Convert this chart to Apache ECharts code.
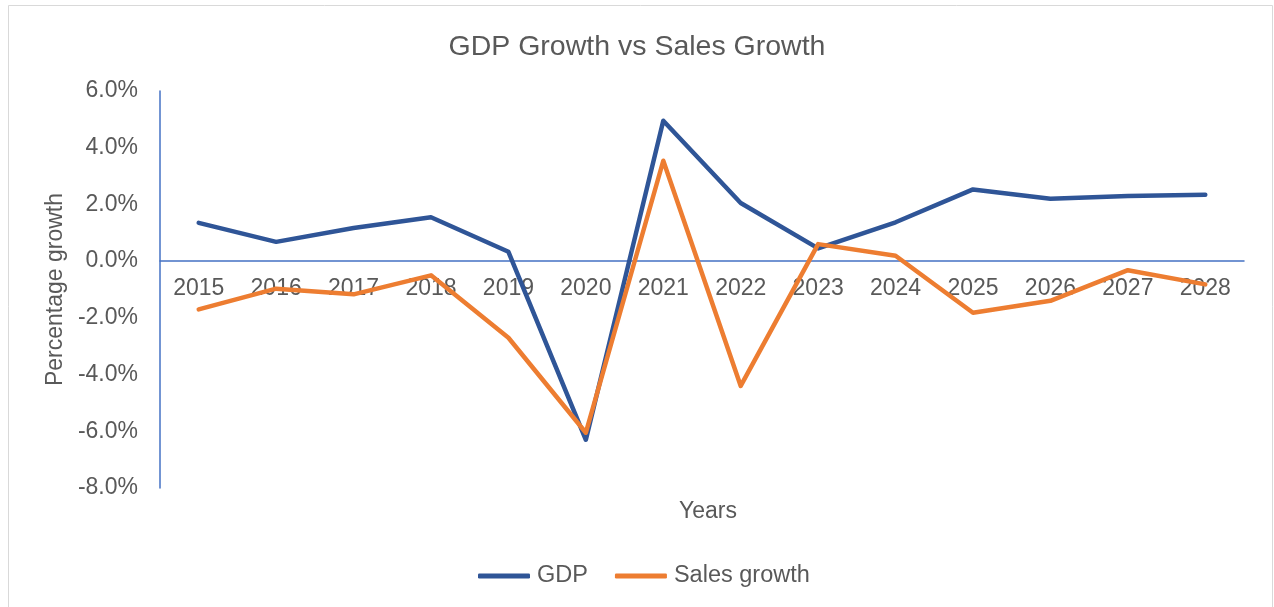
<!DOCTYPE html>
<html>
<head>
<meta charset="utf-8">
<script src="https://cdn.jsdelivr.net/npm/echarts@6/dist/echarts.min.js"></script>
<style>
html,body{margin:0;padding:0;background:#fff;}
#chart{width:1274px;height:607px;}
</style>
</head>
<body>
<div id="chart"></div>
<script>
const years = ['2015','2016','2017','2018','2019','2020','2021','2022','2023','2024','2025','2026','2027','2028'];
const gdp = [1.35, 0.68, 1.17, 1.55, 0.33, -6.3, 4.95, 2.05, 0.45, 1.37, 2.53, 2.2, 2.3, 2.34];
const salesGrowth = [-1.7, -0.97, -1.17, -0.5, -2.7, -6.05, 3.54, -4.4, 0.6, 0.19, -1.82, -1.4, -0.32, -0.82];
const yMin = -8, yMax = 6, yStep = 2;

const FONT = '"Liberation Sans", Arial, sans-serif';
const TXT = '#595959';
const GRID_TOP = 91, GRID_BOTTOM = 119, H = 607;
const gridH = H - GRID_TOP - GRID_BOTTOM;
const zeroOffset = -gridH * (0 - yMin) / (yMax - yMin);

const chart = echarts.init(document.getElementById('chart'), null, {renderer: 'canvas'});
chart.setOption({
  backgroundColor: '#fff',
  animation: false,
  title: [
    {text: 'GDP Growth vs Sales Growth', left: 'center', top: 28,
     textStyle: {fontFamily: FONT, fontSize: 28.5, fontWeight: 'normal', color: TXT}},
    {text: 'Years', left: 703, textAlign: 'center', top: 495,
     textStyle: {fontFamily: FONT, fontSize: 23, fontWeight: 'normal', color: TXT}}
  ],
  graphic: [
    {type: 'rect', shape: {x: 8.5, y: 5.5, width: 1264, height: 620},
     style: {fill: 'none', stroke: '#d9d9d9', lineWidth: 1}, silent: true, z: -1}
  ],
  legend: {
    bottom: 14, left: 473, itemWidth: 52, itemHeight: 5, itemGap: 27,
    icon: 'roundRect',
    textStyle: {fontFamily: FONT, fontSize: 23.5, color: TXT, padding: [0,0,0,2]},
    data: ['GDP', 'Sales growth']
  },
  grid: {left: 160, right: 30, top: GRID_TOP, bottom: GRID_BOTTOM, containLabel: false},
  xAxis: {
    type: 'category', data: years, boundaryGap: true, position: 'bottom',
    offset: zeroOffset,
    axisLine: {onZero: false, lineStyle: {color: '#4472C4', width: 1.5}},
    axisTick: {show: false},
    axisLabel: {fontFamily: FONT, fontSize: 23, color: TXT, margin: 16, interval: 0}
  },
  yAxis: {
    type: 'value', min: yMin, max: yMax, interval: yStep,
    name: 'Percentage growth', nameLocation: 'middle', nameGap: 85, nameRotate: 90,
    nameTextStyle: {fontFamily: FONT, fontSize: 23, color: TXT},
    axisLine: {show: true, lineStyle: {color: '#4472C4', width: 1.5}},
    axisTick: {show: false},
    splitLine: {show: false},
    axisLabel: {fontFamily: FONT, fontSize: 23, color: TXT, margin: 22,
      formatter: v => v.toFixed(1) + '%'}
  },
  series: [
    {name: 'GDP', type: 'line', data: gdp, symbol: 'none', color: '#2F5597', z: 5,
     lineStyle: {width: 4.5, color: '#2F5597', cap: 'round', join: 'round'}},
    {name: 'Sales growth', type: 'line', data: salesGrowth, symbol: 'none', color: '#ED7D31', z: 6,
     lineStyle: {width: 4.5, color: '#ED7D31', cap: 'round', join: 'round'}}
  ]
});
</script>
</body>
</html>
